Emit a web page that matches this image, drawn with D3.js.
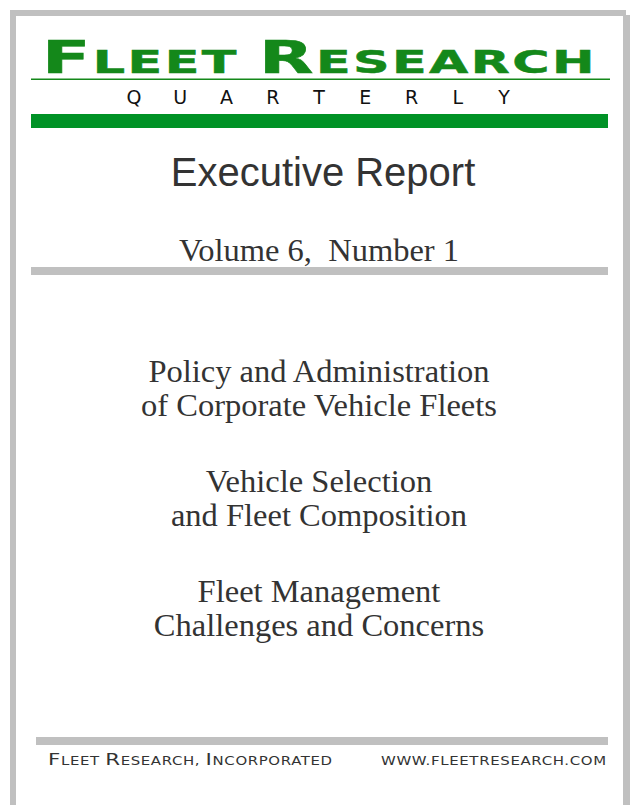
<!DOCTYPE html>
<html>
<head>
<meta charset="utf-8">
<script src="https://cdn.jsdelivr.net/npm/d3@7"></script>
<style>
  body { margin: 0; background: #fff; }
  svg { display: block; }
  text { white-space: pre; }
</style>
</head>
<body>
<svg id="cover" width="635" height="805"></svg>
<script>
// cover content
const MASTHEAD = ['Fleet Research'];
const SUBHEAD = ['Q', 'U', 'A', 'R', 'T', 'E', 'R', 'L', 'Y'];
const REPORT_TITLE = ['Executive Report'];
const ISSUE = ['Volume 6,  Number 1'];
const TOPICS = [
    ['Policy and Administration', 'of Corporate Vehicle Fleets'],
    ['Vehicle Selection', 'and Fleet Composition'],
    ['Fleet Management', 'Challenges and Concerns'],
];
const FOOTER = ['Fleet Research, Incorporated', 'www.fleetresearch.com'];

const w = 635;
const h = 805;
const GRAY = '#c0c0c0';
const GREEN = '#009226';
const TEXT_GREEN = '#14881a';
const INK = '#333';

const svg = d3.select('#cover');

// frame
svg.append('rect').attr('x', 10).attr('y', 10).attr('width', 616).attr('height', 6).attr('fill', GRAY);
svg.append('rect').attr('x', 10).attr('y', 10).attr('width', 6).attr('height', h - 10).attr('fill', GRAY);
svg.append('rect').attr('x', 623).attr('y', 15).attr('width', 7).attr('height', h - 15).attr('fill', GRAY);

// split into small caps runs
function smallCaps(sel, str, big, small) {
    const runs = [];
    for (const ch of str) {
        const isBig = ch !== ch.toLowerCase();
        const last = runs[runs.length - 1];
        if (last && last.big === isBig) last.t += ch;
        else runs.push({ big: isBig, t: ch });
    }
    sel.selectAll('tspan')
        .data(runs)
        .enter()
        .append('tspan')
        .style('font-size', d => (d.big ? big : small) + 'px')
        .text(d => d.t.toUpperCase());
}

// stretch a text element so it spans x0..x1
function fitX(sel, x0, x1, y) {
    const box = sel.node().getBBox();
    const sx = (x1 - x0) / box.width;
    sel.attr('transform', `translate(${x0},${y}) scale(${sx},1) translate(${-box.x},0)`);
}

// masthead
const mast = svg.append('text')
    .attr('fill', TEXT_GREEN)
    .attr('stroke', TEXT_GREEN)
    .attr('stroke-width', 0.5)
    .style('font-family', 'DejaVu Sans')
    .style('font-weight', 'bold')
    .style('letter-spacing', '1.5px');
smallCaps(mast, MASTHEAD[0], 44, 31.5);
fitX(mast, 42, 597, 73);

svg.append('rect').attr('x', 31).attr('y', 78.5).attr('width', 579).attr('height', 1.5).attr('fill', TEXT_GREEN);

const qx = d3.scalePoint().domain(d3.range(SUBHEAD.length)).range([134, 504]);
svg.append('g')
    .selectAll('text')
    .data(SUBHEAD)
    .enter()
    .append('text')
    .attr('x', (d, i) => qx(i))
    .attr('y', 104)
    .attr('text-anchor', 'middle')
    .attr('fill', '#111')
    .style('font-family', 'DejaVu Sans')
    .style('font-size', '19px')
    .text(d => d);

svg.append('rect').attr('x', 31).attr('y', 114).attr('width', 577).attr('height', 14).attr('fill', GREEN);

// title + issue
svg.append('text')
    .attr('x', 323).attr('y', 186)
    .attr('text-anchor', 'middle')
    .attr('fill', INK)
    .style('font-family', 'Liberation Sans')
    .style('font-size', '40px')
    .text(REPORT_TITLE[0]);

svg.append('text')
    .attr('x', 319).attr('y', 261)
    .attr('text-anchor', 'middle')
    .attr('fill', INK)
    .style('font-family', 'Liberation Serif')
    .style('font-size', '32.5px')
    .text(ISSUE[0]);

svg.append('rect').attr('x', 31).attr('y', 267).attr('width', 577).attr('height', 8).attr('fill', GRAY);

// topics
const blockY = [382, 492, 602];
TOPICS.forEach((lines, i) => {
    svg.append('g')
        .selectAll('text')
        .data(lines)
        .enter()
        .append('text')
        .attr('x', 319)
        .attr('y', (d, j) => blockY[i] + j * 34)
        .attr('text-anchor', 'middle')
        .attr('fill', INK)
        .style('font-family', 'Liberation Serif')
        .style('font-size', '32.5px')
        .text(d => d);
});

// footer
svg.append('rect').attr('x', 36).attr('y', 737).attr('width', 572).attr('height', 8).attr('fill', GRAY);

const foot1 = svg.append('text')
    .attr('fill', INK)
    .style('font-family', 'DejaVu Sans')
    .style('letter-spacing', '0.5px');
smallCaps(foot1, FOOTER[0], 16.5, 11.5);
fitX(foot1, 48, 333, 765);

const foot2 = svg.append('text')
    .attr('fill', INK)
    .style('font-family', 'DejaVu Sans')
    .style('letter-spacing', '0.5px');
smallCaps(foot2, FOOTER[1], 16.5, 11.5);
fitX(foot2, 381, 607, 765);
</script>
</body>
</html>
